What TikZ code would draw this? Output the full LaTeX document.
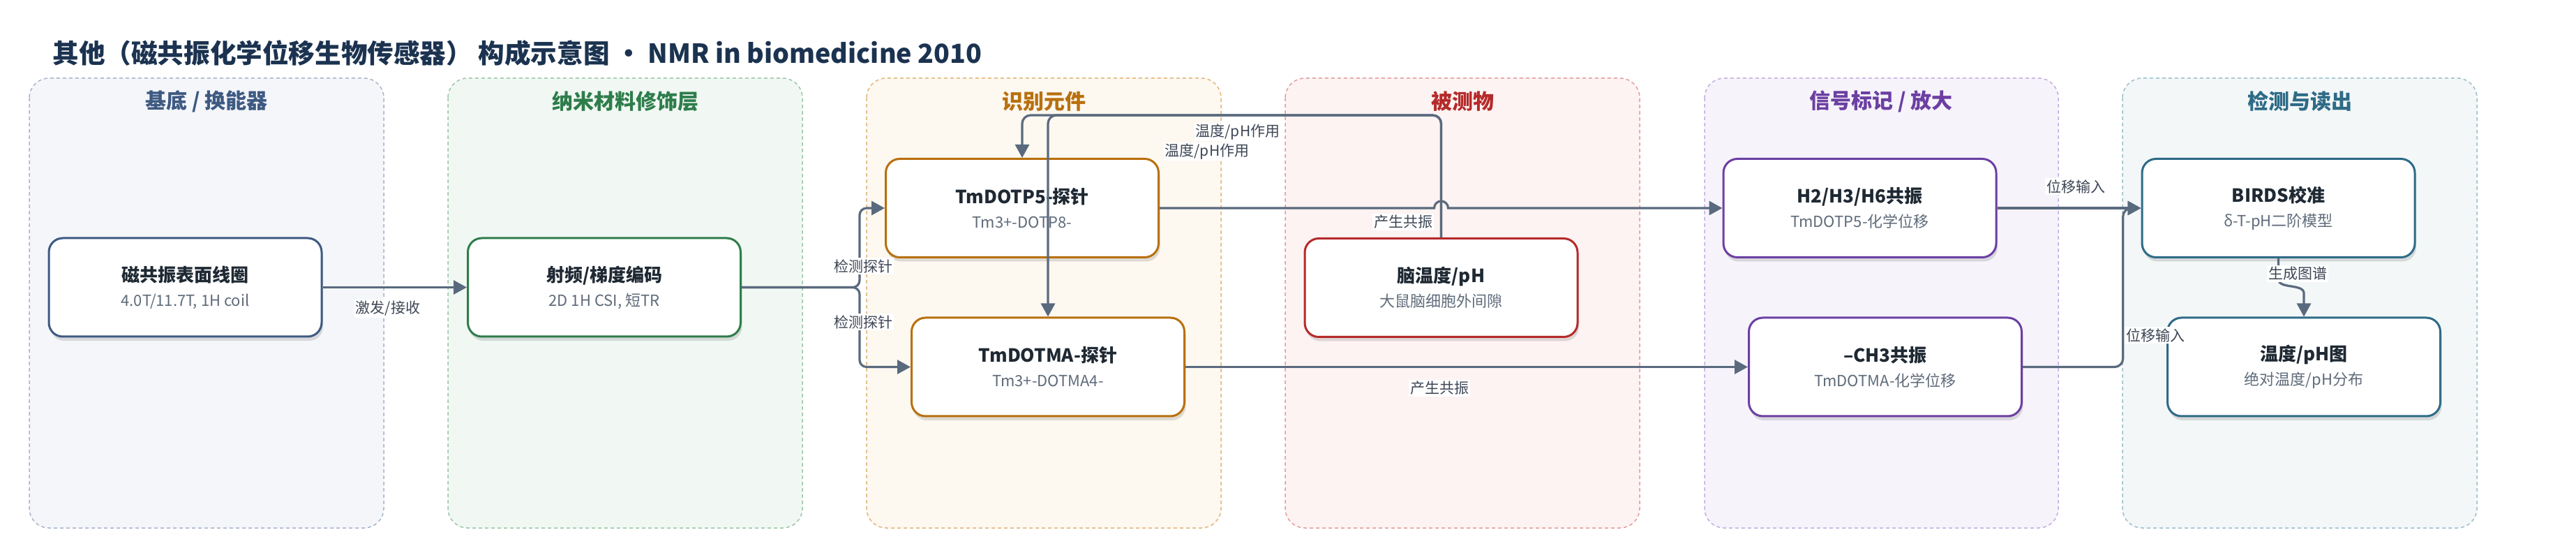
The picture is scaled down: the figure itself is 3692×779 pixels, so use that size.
\documentclass[tikz,border=0pt]{standalone}
\usepackage{fontspec}
\setmainfont{Noto Sans CJK SC}
\usetikzlibrary{arrows.meta,shadows,calc}
\definecolor{titlec}{HTML}{1B3350}
\definecolor{edgec}{HTML}{5A6A7E}
\definecolor{labc}{HTML}{3E4756}
\definecolor{ntitle}{HTML}{1F2933}
\definecolor{nsub}{HTML}{5F6B7A}
\definecolor{Lonef}{HTML}{F4F6FA}\definecolor{Loneb}{HTML}{A8B5C9}\definecolor{Lonea}{HTML}{3E5A82}
\definecolor{Ltwof}{HTML}{F1F8F3}\definecolor{Ltwob}{HTML}{9CC7A8}\definecolor{Ltwoa}{HTML}{2E7D4B}
\definecolor{Lthreef}{HTML}{FDF8F0}\definecolor{Lthreeb}{HTML}{E2B67A}\definecolor{Lthreea}{HTML}{B8700E}
\definecolor{Lfourf}{HTML}{FDF3F2}\definecolor{Lfourb}{HTML}{E39C9C}\definecolor{Lfoura}{HTML}{B52A2A}
\definecolor{Lfivef}{HTML}{F6F3FB}\definecolor{Lfiveb}{HTML}{C4AEE2}\definecolor{Lfivea}{HTML}{6C3FA2}
\definecolor{Lsixf}{HTML}{F3F7F8}\definecolor{Lsixb}{HTML}{9CBFCC}\definecolor{Lsixa}{HTML}{2E6B87}
\newcommand\ntxt[2]{{\fontsize{13}{17.5}\selectfont\bfseries\color{ntitle}#1}\\{\color{nsub}#2}}
\tikzset{
  lane/.style={draw=#1b, fill=#1f, line width=0.75pt, dash pattern=on 2.5pt off 2pt, rounded corners=14pt},
  lanetitle/.style={text=#1a, font=\fontsize{15}{18}\selectfont\bfseries, inner sep=0pt},
  box/.style={draw=#1a, line width=1.5pt, fill=white, rounded corners=10pt,
    minimum width=195.5pt, minimum height=70.5pt, align=center, inner sep=0pt,
    font=\fontsize{11}{17.5}\selectfont,
    drop shadow={shadow xshift=1pt, shadow yshift=-3pt, opacity=0.12, fill=black}},
  conn/.style={draw=edgec, line width=1.6pt, -{Triangle[length=9.5pt,width=10pt]}},
  lab/.style={fill=white, inner sep=1pt, text=labc, font=\fontsize{10.5}{12}\selectfont},
}
\begin{document}
\begin{tikzpicture}[x=0.5pt,y=-0.5pt]
\useasboundingbox (0,0) rectangle (3692,779);
\fill[white] (0,0) rectangle (3692,779);
\node[anchor=west, inner sep=0pt, text=titlec, font=\fontsize{18.8}{22}\selectfont\bfseries] (title) at (75,76)
  {其他（磁共振化学位移生物传感器） 构成示意图 · NMR in biomedicine 2010};
% lanes
\draw[lane=Lone] (42,112) rectangle (550,756);
\draw[lane=Ltwo] (642,112) rectangle (1150,756);
\draw[lane=Lthree] (1242,112) rectangle (1750,756);
\draw[lane=Lfour] (1842,112) rectangle (2350,756);
\draw[lane=Lfive] (2443,112) rectangle (2950,756);
\draw[lane=Lsix] (3042,112) rectangle (3550,756);
\node[lanetitle=Lone] (t1) at (296,145) {基底 / 换能器};
\node[lanetitle=Ltwo] (t2) at (896,145) {纳米材料修饰层};
\node[lanetitle=Lthree] (t3) at (1496,145) {识别元件};
\node[lanetitle=Lfour] (t4) at (2096,145) {被测物};
\node[lanetitle=Lfive] (t5) at (2696,145) {信号标记 / 放大};
\node[lanetitle=Lsix] (t6) at (3296,145) {检测与读出};
% nodes
\node[box=Lone] (A) at (265.5,411.5) {\ntxt{磁共振表面线圈}{4.0T/11.7T, 1H coil}};
\node[box=Ltwo] (B) at (866,411.5) {\ntxt{射频/梯度编码}{2D 1H CSI, 短TR}};
\node[box=Lthree] (C) at (1465,298) {\ntxt{TmDOTP5-探针}{Tm3+-DOTP8-}};
\node[box=Lthree] (D) at (1502,525.5) {\ntxt{TmDOTMA-探针}{Tm3+-DOTMA4-}};
\node[box=Lfour] (E) at (2065.5,412) {\ntxt{脑温度/pH}{大鼠脑细胞外间隙}};
\node[box=Lfive] (F) at (2665.5,298) {\ntxt{H2/H3/H6共振}{TmDOTP5-化学位移}};
\node[box=Lfive] (G) at (2702,525.5) {\ntxt{–CH3共振}{TmDOTMA-化学位移}};
\node[box=Lsix] (H) at (3265.5,298) {\ntxt{BIRDS校准}{δ-T-pH二阶模型}};
\node[box=Lsix] (I) at (3302,525.5) {\ntxt{温度/pH图}{绝对温度/pH分布}};
% helper coordinates
\coordinate (sp) at (1232,411.5);
\coordinate (top) at (0,165);
\coordinate (hop) at (E.north |- C.east);
\coordinate (mj) at (3042.7,525.5);
\coordinate (h1) at (3265.5,400);
\coordinate (i1) at (3302,420);
% connectors
\draw[conn] (A.east) -- (B.west);
\draw[conn, rounded corners=5pt] (B.east) -- (sp) |- (C.west);
\draw[conn, rounded corners=5pt] (B.east) -- (sp) |- (D.west);
\draw[conn, rounded corners=6pt] (E.north) -- (E.north |- top) -- (C.north |- top) -- (C.north);
\draw[conn, rounded corners=6pt] (E.north) -- (E.north |- top) -- (D.north |- top) -- (D.north);
\draw[conn] (C.east) -- ([xshift=-5pt]hop) arc[start angle=180, end angle=0, radius=5pt] -- (F.west);
\draw[conn] (D.east) -- (G.west);
\draw[conn] (F.east) -- (H.west);
\draw[conn, rounded corners=6pt] (G.east) -- (mj) |- (H.west);
\draw[conn] (H.south) -- (h1) .. controls +(0,14) and +(0,-14) .. (i1) -- (I.north);
% labels
\node[lab] (l1) at (556,442) {激发/接收};
\node[lab] (l2) at (1237,381) {检测探针};
\node[lab] (l3) at (1237,461) {检测探针};
\node[lab] (l4) at (1774,189) {温度/pH作用};
\node[lab] (l5) at (1730,217) {温度/pH作用};
\node[lab] (l6) at (2011,318) {产生共振};
\node[lab] (l7) at (2063,556) {产生共振};
\node[lab] (l8) at (2975,267) {位移输入};
\node[lab] (l9) at (3089,480) {位移输入};
\node[lab] (l10) at (3293,392) {生成图谱};
\end{tikzpicture}
\end{document}
